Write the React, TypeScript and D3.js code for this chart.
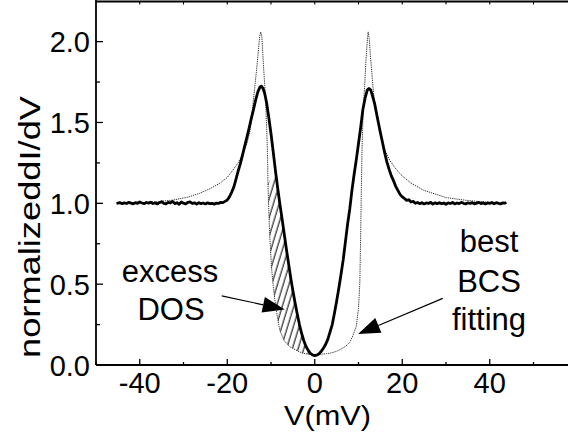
import React from "react";
import * as d3 from "d3";

// Measured conductance (thick, noisy) : [V (mV), normalized dI/dV]
const measuredV = [
  -45.3, -44.5, -44, -43.5, -43, -42.5, -42, -41.5, -41, -40.5, -40, -39.5, -39, -38.5, -38, -37.5, -37, -36.5, -36, -35.5,
  -35, -34.5, -34, -33.5, -33, -32.5, -32, -31.5, -31, -30.5, -30, -29.5, -29, -28.5, -28, -27.5, -27, -26.5, -26, -25.5,
  -25, -24.5, -24, -23.5, -23, -22.5, -22, -21.5, -21, -20.5, -20, -19.5, -19, -18.5, -18, -17.5, -17, -16.5, -16, -15.5,
  -15, -14.5, -14, -13.5, -13, -12.5, -12.2, -11.8, -11.4, -11, -10.5, -10, -9.5, -9, -8.5, -8, -7.5, -7, -6.5, -6,
  -5.5, -5, -4.5, -4, -3.5, -3, -2.5, -2, -1.5, -1, -0.5, 0, 0.5, 1, 1.5, 2, 2.5, 3, 3.5, 4,
  4.5, 5, 5.5, 6, 6.5, 7, 7.5, 8, 8.5, 9, 9.5, 10, 10.5, 11, 11.5, 12, 12.4, 12.8, 13.2, 13.7,
  14.2, 14.9, 15.5, 16, 16.5, 17, 17.5, 18, 18.5, 19, 19.5, 20, 20.5, 21, 21.5, 22, 22.5, 23, 23.5, 24,
  24.5, 25, 25.5, 26, 26.5, 27, 27.5, 28, 28.5, 29, 29.5, 30, 30.5, 31, 31.5, 32, 32.5, 33, 33.5, 34,
  34.5, 35, 35.5, 36, 36.5, 37, 37.5, 38, 38.5, 39, 39.5, 40, 40.5, 41, 41.5, 42, 42.5, 43, 43.5, 43.8,
];
const measuredG = [
  1.000, 1.004, 0.998, 1.003, 0.999, 1.006, 1.001, 0.997, 1.004, 1.000, 1.008, 1.002, 0.998, 1.005, 1.001, 1.007, 0.999, 1.003, 0.996, 1.004,
  1.010, 1.000, 0.997, 1.006, 1.002, 1.012, 0.998, 1.004, 0.994, 1.008, 1.001, 0.996, 1.006, 1.009, 0.999, 1.003, 0.995, 1.004, 0.998, 1.002,
  0.996, 1.003, 0.998, 1.000, 0.995, 1.001, 0.999, 1.006, 1.004, 1.012, 1.020, 1.040, 1.068, 1.100, 1.150, 1.200, 1.245, 1.300, 1.355, 1.410,
  1.465, 1.525, 1.580, 1.640, 1.690, 1.720, 1.725, 1.710, 1.675, 1.620, 1.530, 1.430, 1.320, 1.205, 1.100, 1.000, 0.910, 0.815, 0.720, 0.630,
  0.540, 0.460, 0.385, 0.315, 0.250, 0.195, 0.150, 0.115, 0.090, 0.072, 0.062, 0.058, 0.062, 0.070, 0.085, 0.105, 0.128, 0.160, 0.205, 0.250,
  0.320, 0.395, 0.475, 0.560, 0.650, 0.760, 0.870, 0.965, 1.080, 1.180, 1.270, 1.370, 1.470, 1.580, 1.650, 1.700, 1.710, 1.700, 1.665, 1.615,
  1.545, 1.450, 1.375, 1.310, 1.255, 1.210, 1.170, 1.140, 1.105, 1.080, 1.055, 1.040, 1.030, 1.018, 1.022, 1.008, 1.012, 1.000, 1.005, 0.998,
  1.004, 0.996, 1.002, 0.999, 1.006, 0.995, 1.003, 0.998, 1.004, 0.997, 1.002, 0.994, 1.003, 0.999, 1.005, 0.996, 1.002, 0.998, 1.006, 1.000,
  0.996, 1.003, 0.999, 1.004, 0.997, 1.001, 1.006, 0.998, 1.003, 0.996, 1.002, 0.999, 1.005, 0.997, 1.004, 1.000, 0.996, 1.003, 1.001, 1.006,
];

// Best BCS fitting (thin dotted)
const bcsV = [
  -45.3, -40, -36, -32.4, -29, -26.3, -24, -21.7, -20, -18.7, -17.5, -16.4, -15.5, -14.9, -14.4, -14.1, -13.7, -13.3, -12.9, -12.6,
  -12.35, -12.1, -11.9, -11.66, -11.4, -11.2, -11.0, -10.8, -10.7, -10.5, -10.3, -9.9, -9.5, -9.1, -8.5, -8.0, -7, -5.7, -4, -2.7,
  -1.2, 0, 1.2, 2.7, 4, 5, 6, 7, 8, 8.7, 9.5, 10, 10.3, 10.5, 10.6, 10.8, 11.1, 11.4, 11.7, 12.0,
  12.2, 12.45, 12.7, 13.0, 13.3, 13.7, 14.3, 14.9, 15.5, 16.2, 17.1, 18.2, 19.4, 20.2, 22, 24.8, 27, 30.1, 34.7, 38,
  41, 43.8,
];
const bcsG = [
  1.000, 1.003, 1.010, 1.020, 1.038, 1.062, 1.090, 1.124, 1.160, 1.206, 1.250, 1.310, 1.370, 1.433, 1.530, 1.618, 1.720, 1.824, 1.940, 2.030,
  2.060, 2.030, 1.940, 1.824, 1.720, 1.618, 1.470, 1.310, 1.120, 0.950, 0.810, 0.610, 0.490, 0.400, 0.290, 0.216, 0.150, 0.113, 0.088, 0.072,
  0.066, 0.065, 0.066, 0.070, 0.076, 0.085, 0.098, 0.115, 0.140, 0.180, 0.240, 0.350, 0.505, 0.810, 1.000, 1.330, 1.600, 1.720, 1.880, 2.000,
  2.060, 2.020, 1.920, 1.824, 1.720, 1.618, 1.530, 1.450, 1.380, 1.320, 1.268, 1.225, 1.185, 1.165, 1.125, 1.082, 1.062, 1.035, 1.018, 1.010,
  1.004, 1.000,
];

// Hatched "excess DOS" region bounds (V range)
const hatchRange = [-10.7, 0];
const hatchTopMeasured = -9.0;

const xMajor = [-40, -20, 0, 20, 40];
const xMinor = [-50, -30, -10, 10, 30, 50];
const yMajor = [0, 0.5, 1.0, 1.5, 2.0];
const yMinor = [0.25, 0.75, 1.25, 1.75];
const topTicks = [-40, -30, -20, -10, 0, 10, 20, 30, 40, 50];

// annotation arrows in data coordinates: [fromV, fromG, toV, toG]
const arrowExcess = [-21.26, 0.427, -6.86, 0.344];
const arrowBCS = [29.26, 0.412, 9.9, 0.192];

const FONT = "'Liberation Sans', Arial, Helvetica, sans-serif";

export default function App() {
  const x = d3.scaleLinear().domain([-50, 60]).range([96, 577.25]);
  const y = d3.scaleLinear().domain([0, 2.25]).range([365, 1.2]);

  const measured = measuredV.map((v, i) => [v, measuredG[i]] as [number, number]);
  const bcs = bcsV.map((v, i) => [v, bcsG[i]] as [number, number]);

  const line = d3
    .line<[number, number]>()
    .x((d) => x(d[0]))
    .y((d) => y(d[1]))
    .curve(d3.curveLinear);

  const upper = measured.filter((d) => d[0] >= hatchTopMeasured && d[0] <= hatchRange[1]);
  const lower = bcs.filter((d) => d[0] >= hatchRange[0] && d[0] <= hatchRange[1]).reverse();
  const hatchPoly = [...upper, ...lower];
  const hatchPath = line(hatchPoly) + "Z";

  const arrow = (a: number[], key: string) => {
    const x1 = x(a[0]), y1 = y(a[1]), x2 = x(a[2]), y2 = y(a[3]);
    const ang = Math.atan2(y2 - y1, x2 - x1);
    const L = 22, W = 8;
    const bx = x2 - L * Math.cos(ang), by = y2 - L * Math.sin(ang);
    const px = -Math.sin(ang) * W, py = Math.cos(ang) * W;
    return (
      <g key={key}>
        <line x1={x1} y1={y1} x2={bx} y2={by} stroke="#000" strokeWidth={1.2} />
        <polygon points={`${x2},${y2} ${bx + px},${by + py} ${bx - px},${by - py}`} fill="#000" />
      </g>
    );
  };

  return (
    <svg
      width={568}
      height={435}
      style={{ position: "absolute", left: 0, top: 0, background: "#fff" }}
      fontFamily={FONT}
    >
      <defs>
        <pattern id="hatch" width={5.5} height={10} patternUnits="userSpaceOnUse" patternTransform="rotate(17)">
          <line x1={2} y1={0} x2={2} y2={10} stroke="#000" strokeWidth={1} />
        </pattern>
      </defs>
      <rect x={0} y={0} width={568} height={435} fill="#fff" />

      {/* hatched excess DOS */}
      <path d={hatchPath} fill="url(#hatch)" stroke="none" />

      {/* BCS fit */}
      <path d={line(bcs) || ""} fill="none" stroke="#222" strokeWidth={0.9} strokeDasharray="1.3 0.9" />
      {/* measured */}
      <path d={line(measured) || ""} fill="none" stroke="#000" strokeWidth={2.8} strokeLinejoin="round" />

      {/* axes frame */}
      <line x1={96} y1={1.5} x2={568} y2={1.5} stroke="#000" strokeWidth={1.8} />
      <line x1={96} y1={365} x2={568} y2={365} stroke="#000" strokeWidth={1.8} />
      <line x1={96} y1={0} x2={96} y2={365} stroke="#000" strokeWidth={1.8} />

      {/* bottom ticks */}
      {xMajor.map((t) => (
        <line key={"xM" + t} x1={x(t)} x2={x(t)} y1={365} y2={359} stroke="#000" strokeWidth={1.3} />
      ))}
      {xMinor.map((t) => (
        <line key={"xm" + t} x1={x(t)} x2={x(t)} y1={365} y2={362} stroke="#000" strokeWidth={1.3} />
      ))}
      {topTicks.map((t) => (
        <line key={"xt" + t} x1={x(t)} x2={x(t)} y1={1.5} y2={4.5} stroke="#000" strokeWidth={1.1} />
      ))}
      {/* left ticks */}
      {yMajor.map((t) => (
        <line key={"yM" + t} x1={96} x2={103} y1={y(t)} y2={y(t)} stroke="#000" strokeWidth={1.3} />
      ))}
      {yMinor.map((t) => (
        <line key={"ym" + t} x1={96} x2={100} y1={y(t)} y2={y(t)} stroke="#000" strokeWidth={1.3} />
      ))}

      {/* tick labels */}
      {xMajor.map((t) => (
        <text key={"xl" + t} x={x(t)} y={393} textAnchor="middle" fontSize={29} fill="#000">
          {t}
        </text>
      ))}
      {yMajor.map((t) => (
        <text key={"yl" + t} x={90} y={y(t) + 10.5} textAnchor="end" fontSize={29} fill="#000">
          {t.toFixed(1)}
        </text>
      ))}

      {/* axis titles */}
      <text x={327.5} y={425} textAnchor="middle" fontSize={28} fill="#000" textLength={87} lengthAdjust="spacingAndGlyphs">
        V(mV)
      </text>
      <text
        transform={`translate(40,227) rotate(-90)`}
        textAnchor="middle"
        fontSize={30}
        fill="#000"
        textLength={262}
        lengthAdjust="spacingAndGlyphs"
      >
        normalizeddI/dV
      </text>

      {/* annotations */}
      <text x={170} y={281.5} textAnchor="middle" fontSize={31} fill="#000">excess</text>
      <text x={171} y={319.5} textAnchor="middle" fontSize={31} fill="#000">DOS</text>
      <text x={489} y={251.5} textAnchor="middle" fontSize={31} fill="#000">best</text>
      <text x={489} y={291.5} textAnchor="middle" fontSize={31} fill="#000">BCS</text>
      <text x={489} y={330} textAnchor="middle" fontSize={31} fill="#000">fitting</text>

      {arrow(arrowExcess, "a1")}
      {arrow(arrowBCS, "a2")}
    </svg>
  );
}
